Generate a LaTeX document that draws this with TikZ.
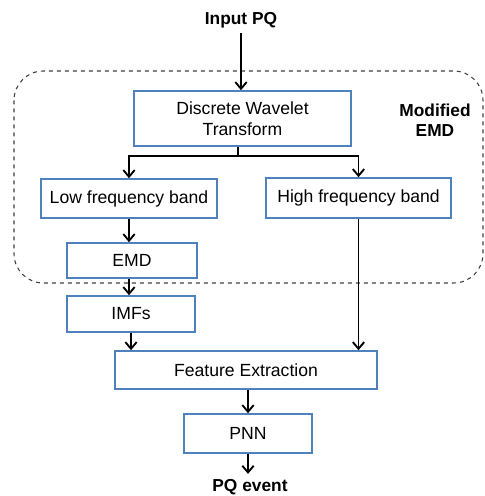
\documentclass[tikz,border=0pt]{standalone}
\usepackage{fontspec}
\setmainfont{Liberation Sans}
\usetikzlibrary{arrows.meta}
\definecolor{boxblue}{HTML}{4F81BD}

\begin{document}
\begin{tikzpicture}[x=0.75pt,y=-0.75pt,>={Straight Barb[length=5pt,width=8.5pt]},line width=1.4pt,
    block/.style 2 args={rectangle,draw=boxblue,fill=white,line width=1.2pt,
      inner sep=0pt,minimum width=#1*0.75pt,minimum height=#2*0.75pt,
      font=\fontsize{13.2}{15.5}\selectfont},
    label text/.style={font=\fontsize{13}{15}\selectfont\bfseries}]
    \useasboundingbox (0,0) rectangle (485,496);
    % dashed frame of the modified EMD
    \draw[dashed,line width=0.8pt,black!75,rounded corners=22pt] (14,71) rectangle (483,283);
    \node[label text,align=center] (memd) at (435,120) {Modified\\EMD};
    \node[label text] (input) at (241,20) {Input PQ};
    \node[block={217}{55},align=center] (dwt) at (242.5,118.5) {Discrete Wavelet\\Transform};
    \node[block={176}{39}] (low) at (129,198.5) {Low frequency band};
    \node[block={185}{40}] (high) at (358.5,198) {High frequency band};
    \node[block={130}{35}] (emd) at (132,260.5) {EMD};
    \node[block={128}{36}] (imfs) at (131,314) {IMFs};
    \node[block={262}{38}] (fe) at (246,370) {Feature Extraction};
    \node[block={128}{39}] (pnn) at (248,433.5) {PNN};
    \node[label text] (event) at (250,487) {PQ event};
    \coordinate (split) at (238,156);
    \draw[->] (input) -- (input |- dwt.north);
    \draw (dwt.south -| split) -- (split);
    \draw[->] (split) -| (low.north);
    \draw[->] (split) -| (high.north);
    \draw[->] (low.south) -- (low.south |- emd.north);
    \draw[->] (low.south |- emd.south) -- (low.south |- imfs.north);
    \draw[->] (imfs.south) -- (imfs.south |- fe.north);
    \draw[->] (high.south) -- (high.south |- fe.north);
    \draw[->] (pnn.north |- fe.south) -- (pnn.north);
    \draw[->] (pnn.south) -- (pnn.south |- event.north);
\end{tikzpicture}
\end{document}
